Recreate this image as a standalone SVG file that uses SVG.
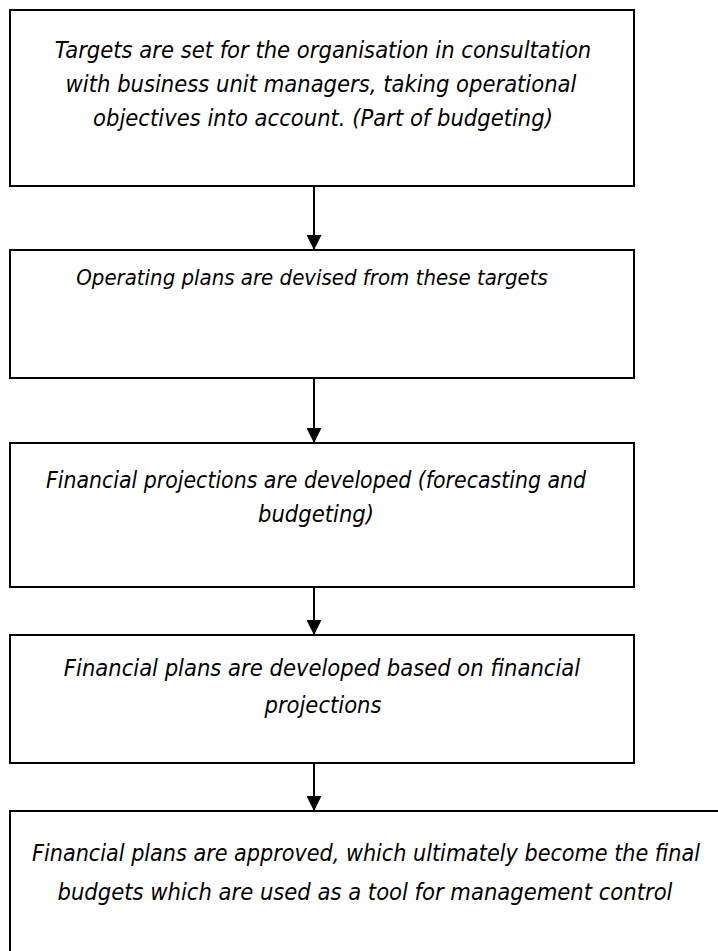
<svg xmlns="http://www.w3.org/2000/svg" width="718" height="951" viewBox="0 0 718 951">
  <style>
    .box { fill: #ffffff; stroke: #000000; stroke-width: 2; }
    .conn { stroke: #000000; stroke-width: 2; fill: none; }
    .label { font-family: "DejaVu Sans Condensed", "DejaVu Sans", sans-serif; font-stretch: condensed; font-style: italic; font-size: 23.5px; fill: #000000; text-anchor: middle; }
  </style>
  <defs>
    <marker id="arrow" markerWidth="15" markerHeight="15" refX="15" refY="7.5" orient="auto" markerUnits="userSpaceOnUse" viewBox="0 0 15 15">
      <path d="M0,0 L15,7.5 L0,15 Z" fill="#000000"/>
    </marker>
  </defs>
  <rect width="718" height="951" fill="#ffffff"/>

  <g id="connectors">
    <line class="conn" x1="314" y1="186" x2="314" y2="250" marker-end="url(#arrow)"/>
    <line class="conn" x1="314" y1="378" x2="314" y2="443" marker-end="url(#arrow)"/>
    <line class="conn" x1="314" y1="587" x2="314" y2="635" marker-end="url(#arrow)"/>
    <line class="conn" x1="314" y1="763" x2="314" y2="811" marker-end="url(#arrow)"/>
  </g>

  <g id="targets">
    <rect class="box" x="10" y="10" width="624" height="176"/>
    <text class="label" x="323" y="58">Targets are set for the organisation in consultation</text>
    <text class="label" x="321" y="92">with business unit managers, taking operational</text>
    <text class="label" x="323" y="126">objectives into account. (Part of budgeting)</text>
  </g>

  <g id="operating-plans">
    <rect class="box" x="10" y="250" width="624" height="128"/>
    <text class="label" x="312" y="285" style="font-size:22px">Operating plans are devised from these targets</text>
  </g>

  <g id="financial-projections">
    <rect class="box" x="10" y="443" width="624" height="144"/>
    <text class="label" x="316" y="488" style="font-size:22.8px">Financial projections are developed (forecasting and</text>
    <text class="label" x="316" y="522">budgeting)</text>
  </g>

  <g id="financial-plans">
    <rect class="box" x="10" y="635" width="624" height="128"/>
    <text class="label" x="322" y="676">Financial plans are developed based on financial</text>
    <text class="label" x="323" y="713">projections</text>
  </g>

  <g id="final-budgets">
    <rect class="box" x="10" y="811" width="712" height="200"/>
    <text class="label" x="366" y="861" style="font-size:23.1px">Financial plans are approved, which ultimately become the final</text>
    <text class="label" x="365" y="900">budgets which are used as a tool for management control</text>
  </g>
</svg>
